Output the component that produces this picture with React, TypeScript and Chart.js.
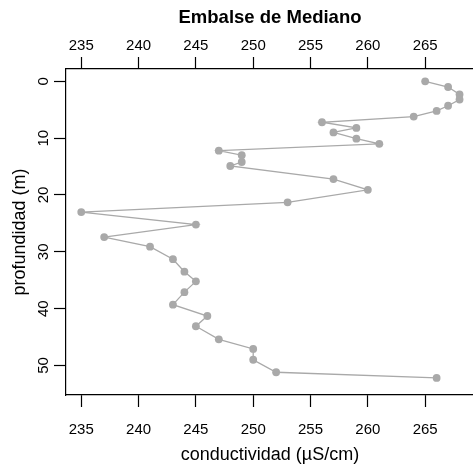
import { useEffect, useRef } from "react";
import { Chart, registerables } from "chart.js";

Chart.register(...registerables);

const chartTitle = "Embalse de Mediano";
const xLabel = "conductividad (µS/cm)";
const yLabel = "profundidad (m)";

const conductividad = [
  265, 267, 268, 268, 267, 266, 264, 256, 259, 257, 259, 261, 247, 249, 249, 248,
  257, 260, 253, 235, 245, 237, 241, 243, 244, 245, 244, 243, 246, 245, 247, 250,
  250, 252, 266,
];
const profundidad = [
  0, 1, 2.3, 3.2, 4.3, 5.2, 6.2, 7.2, 8.2, 9.0, 10.1, 11.0, 12.2, 13.0, 14.2, 14.9,
  17.2, 19.1, 21.3, 23.0, 25.2, 27.4, 29.1, 31.3, 33.5, 35.2, 37.1, 39.3, 41.3, 43.1,
  45.4, 47.1, 49.0, 51.2, 52.2,
];
const xTicks = [235, 240, 245, 250, 255, 260, 265];
const yTicks = [0, 10, 20, 30, 40, 50];

const FONT = "'Liberation Sans', Arial, Helvetica, sans-serif";
const GRAY = "#a9a9a9";
const TITLE_SIZE = 18.5;
const TITLE_PAD_TOP = 7;
const TITLE_PAD_BOTTOM = 4;

export default function App() {
  const ref = useRef<HTMLCanvasElement>(null);
  useEffect(() => {
    const xAxisBase = (position: "top" | "bottom") => ({
      type: "linear" as const,
      position,
      min: 233.67,
      max: 269.26,
      afterBuildTicks: (s: any) => {
        s.ticks = xTicks.map((v) => ({ value: v }));
      },
      grid: {
        drawOnChartArea: false,
        drawTicks: true,
        tickLength: 12,
        color: "#000",
        tickWidth: 1.2,
      },
      border: { display: true, color: "#000", width: 1.2 },
      ticks: {
        font: { family: FONT, size: 15 },
        color: "#000",
        maxRotation: 0,
        minRotation: 0,
        autoSkip: false,
        padding: position === "bottom" ? 14 : 2,
      },
    });
    const chart = new Chart(ref.current!, {
      type: "scatter",
      data: {
        datasets: [
          {
            data: conductividad.map((x, i) => ({ x, y: profundidad[i] })),
            showLine: true,
            borderColor: GRAY,
            backgroundColor: GRAY,
            borderWidth: 1.3,
            pointRadius: 3.9,
            pointBorderWidth: 0,
            xAxisID: "x",
            yAxisID: "y",
          },
        ],
      },
      options: {
        animation: false,
        responsive: false,
        layout: { padding: { left: 0, right: 8, top: 0, bottom: 0 } },
        plugins: {
          legend: { display: false },
          tooltip: { enabled: false },
          title: {
            display: true,
            fullSize: false,
            text: chartTitle,
            color: "#000",
            font: { family: FONT, size: TITLE_SIZE, weight: "bold" },
            padding: { top: TITLE_PAD_TOP, bottom: TITLE_PAD_BOTTOM },
          },
        },
        scales: {
          x: {
            ...xAxisBase("bottom"),
            afterFit: (s: any) => {
              s.height = 74;
            },
            title: {
              display: true,
              text: xLabel,
              color: "#000",
              font: { family: FONT, size: 18 },
              padding: { top: 0, bottom: 3 },
            },
          },
          x2: {
            ...xAxisBase("top"),
            afterFit: (s: any) => {
              s.height = 69 - (TITLE_SIZE * 1.2 + TITLE_PAD_TOP + TITLE_PAD_BOTTOM);
            },
          },
          y: {
            type: "linear",
            position: "left",
            reverse: true,
            min: -2.17,
            max: 55.2,
            afterBuildTicks: (s: any) => {
              s.ticks = yTicks.map((v) => ({ value: v }));
            },
            afterFit: (s: any) => {
              s.width = 66;
            },
            grid: {
              drawOnChartArea: false,
              drawTicks: true,
              tickLength: 12,
              color: "#000",
              tickWidth: 1.2,
            },
            border: { display: true, color: "#000", width: 1.2 },
            ticks: {
              font: { family: FONT, size: 15 },
              color: "#000",
              minRotation: 90,
              maxRotation: 90,
              autoSkip: false,
              crossAlign: "center",
              padding: 2,
            },
            title: {
              display: true,
              text: yLabel,
              color: "#000",
              font: { family: FONT, size: 18 },
              padding: { top: 9.5, bottom: 0 },
            },
          },
        },
      },
    } as any);
    return () => chart.destroy();
  }, []);
  return (
    <div
      style={{
        position: "absolute",
        left: 0,
        top: 0,
        width: 473,
        height: 469,
        overflow: "hidden",
        background: "#fff",
      }}
    >
      <canvas ref={ref} width={482} height={469} style={{ display: "block" }} />
    </div>
  );
}
